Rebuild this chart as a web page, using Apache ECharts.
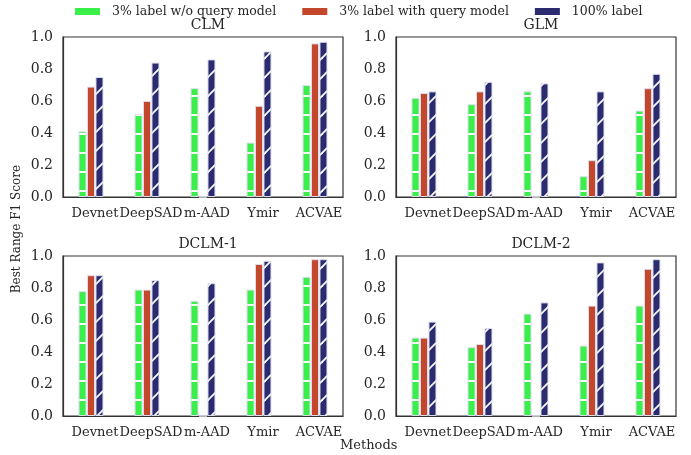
<!DOCTYPE html>
<html>
<head>
<meta charset="utf-8">
<style>
html, body { margin: 0; padding: 0; background: #fff; }
#main { width: 691px; height: 455px; }
</style>
<script src="https://cdn.jsdelivr.net/npm/echarts@6/dist/echarts.min.js"></script>
</head>
<body>
<div id="main"></div>
<script>
// categories and values
var methods = ['Devnet', 'DeepSAD', 'm-AAD', 'Ymir', 'ACVAE'];
var seriesNames = ['3% label w/o query model', '3% label with query model', '100% label'];
var panelTitles = ['CLM', 'GLM', 'DCLM-1', 'DCLM-2'];
var yTicks = [0, 0.2, 0.4, 0.6, 0.8, 1.0];

var clmNoQuery   = [0.41, 0.52, 0.68, 0.34, 0.70];
var clmQuery     = [0.69, 0.60, 0,    0.57, 0.96];
var clmFull      = [0.75, 0.84, 0.86, 0.91, 0.97];

var glmNoQuery   = [0.62, 0.58, 0.66, 0.13, 0.54];
var glmQuery     = [0.65, 0.66, 0,    0.23, 0.68];
var glmFull      = [0.66, 0.72, 0.71, 0.66, 0.77];

var dclm1NoQuery = [0.78, 0.79, 0.72, 0.79, 0.87];
var dclm1Query   = [0.88, 0.79, 0,    0.95, 0.98];
var dclm1Full    = [0.88, 0.85, 0.83, 0.97, 0.98];

var dclm2NoQuery = [0.49, 0.43, 0.64, 0.44, 0.69];
var dclm2Query   = [0.49, 0.45, 0,    0.69, 0.92];
var dclm2Full    = [0.59, 0.55, 0.71, 0.96, 0.98];

var panelData = [
    [clmNoQuery, clmQuery, clmFull],
    [glmNoQuery, glmQuery, glmFull],
    [dclm1NoQuery, dclm1Query, dclm1Full],
    [dclm2NoQuery, dclm2Query, dclm2Full]
];

var GREEN = '#3bef4a';
var RED = '#c4472b';
var BLUE = '#2b2b70';
var TEXT = '#262626';
var FONT = 'DejaVu Serif';

// hatch tiles: '-' for green, '/' for blue
function hatchH(color) {
    var c = document.createElement('canvas');
    c.width = 19; c.height = 19;
    var g = c.getContext('2d');
    g.fillStyle = color;
    g.fillRect(0, 0, 19, 19);
    g.fillStyle = '#ffffff';
    g.fillRect(0, 0, 19, 2);
    return c;
}
function hatchD(color) {
    var c = document.createElement('canvas');
    c.width = 19; c.height = 19;
    var g = c.getContext('2d');
    g.fillStyle = color;
    g.fillRect(0, 0, 19, 19);
    g.strokeStyle = '#ffffff';
    g.lineWidth = 1.8;
    [-19, 0, 19].forEach(function (dx) {
        g.beginPath();
        g.moveTo(dx - 1, 20);
        g.lineTo(dx + 20, -1);
        g.stroke();
    });
    return c;
}

var fills = [
    { image: hatchH(GREEN), repeat: 'repeat' },
    RED,
    { image: hatchD(BLUE), repeat: 'repeat' }
];
var plain = [GREEN, RED, BLUE];

// panel boxes
var boxes = [
    { left: 63,  top: 37,  width: 280, height: 160 },
    { left: 396, top: 37,  width: 280, height: 160 },
    { left: 63,  top: 256, width: 280, height: 160 },
    { left: 396, top: 256, width: 280, height: 160 }
];

var grids = [], xAxes = [], yAxes = [], series = [], titles = [];
boxes.forEach(function (b, i) {
    grids.push({
        left: b.left, top: b.top, width: b.width, height: b.height,
        show: true, borderColor: '#333', borderWidth: 1.2, backgroundColor: 'transparent'
    });
    xAxes.push({
        type: 'category', gridIndex: i, data: methods,
        axisTick: { show: false },
        axisLine: { lineStyle: { color: '#333', width: 1.2 } },
        axisLabel: {
            color: TEXT, fontFamily: FONT, fontSize: 13, margin: 10, interval: 0,
            padding: [0, 0, 0, 8]
        }
    });
    yAxes.push({
        type: 'value', gridIndex: i, min: 0, max: 1, interval: 0.2,
        splitLine: { show: false },
        axisTick: { show: false },
        axisLine: { show: true, lineStyle: { color: '#333', width: 1.2 } },
        axisLabel: {
            color: TEXT, fontFamily: FONT, fontSize: 14, margin: 10,
            formatter: function (v) { return v.toFixed(1); }
        }
    });
    titles.push({
        text: panelTitles[i],
        left: b.left + b.width / 2, top: b.top - 24, textAlign: 'center',
        textStyle: { color: TEXT, fontFamily: FONT, fontSize: 14, fontWeight: 'normal' }
    });
    panelData[i].forEach(function (vals, k) {
        series.push({
            name: seriesNames[k],
            type: 'bar',
            xAxisIndex: i, yAxisIndex: i,
            data: vals,
            barWidth: 8,
            barGap: '6%',
            itemStyle: { color: fills[k], borderColor: '#dcdcea', borderWidth: 1 },
            emphasis: { disabled: true }
        });
    });
});

var chart = echarts.init(document.getElementById('main'), null, { renderer: 'canvas' });
chart.setOption({
    animation: false,
    backgroundColor: '#fff',
    title: titles,
    legend: {
        top: 0, left: 70, icon: 'rect',
        itemWidth: 25, itemHeight: 7, itemGap: 26,
        textStyle: { color: TEXT, fontFamily: FONT, fontSize: 12.5, padding: [0, 0, 0, 7] },
        data: seriesNames.map(function (n, k) {
            return { name: n, itemStyle: { color: plain[k], borderWidth: 0 } };
        })
    },
    grid: grids,
    xAxis: xAxes,
    yAxis: yAxes,
    series: series,
    graphic: [
        {
            type: 'text', left: 11, top: 165, rotation: Math.PI / 2,
            style: { text: 'Best Range F1 Score', fill: TEXT, font: '12px "DejaVu Serif"' }
        },
        {
            type: 'text', left: 340, top: 439,
            style: { text: 'Methods', fill: TEXT, font: '13px "DejaVu Serif"' }
        }
    ]
});
</script>
</body>
</html>
